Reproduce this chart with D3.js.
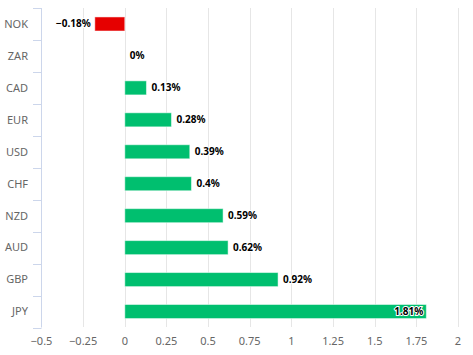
<!DOCTYPE html>
<html><head><meta charset="utf-8">
<script src="https://cdn.jsdelivr.net/npm/d3@7"></script>
<style>body{margin:0;background:#fff}svg{display:block}</style>
</head><body>
<svg id="c" width="473" height="355"></svg>
<script>
const categories = ["NOK","ZAR","CAD","EUR","USD","CHF","NZD","AUD","GBP","JPY"];
const values = [-0.18,0,0.13,0.28,0.39,0.4,0.59,0.62,0.92,1.81];
const labels = ["−0.18%","0%","0.13%","0.28%","0.39%","0.4%","0.59%","0.62%","0.92%","1.81%"];
const xTicks = [-0.5,-0.25,0,0.25,0.5,0.75,1,1.25,1.5,1.75,2];
const xTickLabels = ["−0.5","−0.25","0","0.25","0.5","0.75","1","1.25","1.5","1.75","2"];

const svg = d3.select("#c");
const font = "'Noto Sans', sans-serif";
const x = d3.scaleLinear().domain([-0.5,2]).range([41.5,458]);
const y = d3.scaleBand().domain(categories).range([8,327.5]).paddingInner(0.56).paddingOuter(0.28);
const yb = d3.scaleBand().domain(categories).range([8,327.5]);

// grid
svg.append("g").selectAll("line").data(xTicks.filter(d=>d!==-0.5)).join("line")
  .attr("x1",d=>Math.round(x(d))+0.5).attr("x2",d=>Math.round(x(d))+0.5)
  .attr("y1",8).attr("y2",327).attr("stroke","#e6e6e6").attr("stroke-width",1);

// y axis line + ticks
const ax = svg.append("g");
ax.append("line").attr("x1",41.5).attr("x2",41.5).attr("y1",8).attr("y2",327.5).attr("stroke","#ccd6eb");
const tickYs = categories.map(c=>yb(c)).concat([yb(categories[9])+yb.bandwidth()]);
ax.selectAll("line.t").data(tickYs).join("line").attr("class","t")
  .attr("x1",33).attr("x2",41.5).attr("y1",d=>Math.round(d)+0.5).attr("y2",d=>Math.round(d)+0.5).attr("stroke","#ccd6eb");
ax.selectAll("text").data(categories).join("text")
  .attr("x",28).attr("y",c=>yb(c)+yb.bandwidth()/2).attr("dy","0.35em")
  .attr("text-anchor","end").attr("font-family",font).attr("font-size",11).attr("fill","#666")
  .text(c=>c);

// x tick labels
svg.append("g").selectAll("text").data(xTicks).join("text")
  .attr("x",d=>x(d)).attr("y",345).attr("text-anchor","middle")
  .attr("font-family",font).attr("font-size",11).attr("fill","#666")
  .text((d,i)=>xTickLabels[i]);

// bars
svg.append("g").selectAll("rect").data(values).join("rect")
  .attr("x",d=>x(Math.min(0,d))).attr("y",(d,i)=>y(categories[i]))
  .attr("width",d=>Math.abs(x(d)-x(0))).attr("height",y.bandwidth())
  .attr("fill",d=>d<0?"#e60000":"#00bf6f")
  .attr("stroke","#ffffff").attr("stroke-opacity",0.5).attr("stroke-width",d=>d===0?0:1);

// value labels
svg.append("g").selectAll("text").data(values).join("text")
  .attr("x",(d,i)=> i===9 ? x(d)-3 : d<0 ? x(d)-4 : x(d)+5)
  .attr("y",(d,i)=>y(categories[i])+y.bandwidth()/2).attr("dy","0.35em")
  .attr("text-anchor",(d,i)=> i===9 || d<0 ? "end" : "start")
  .attr("font-family",font).attr("font-size",10).attr("font-weight","bold")
  .attr("fill","#000").attr("stroke","#fff").attr("stroke-width",2).attr("paint-order","stroke")
  .text((d,i)=>labels[i]);
</script>
</body></html>
